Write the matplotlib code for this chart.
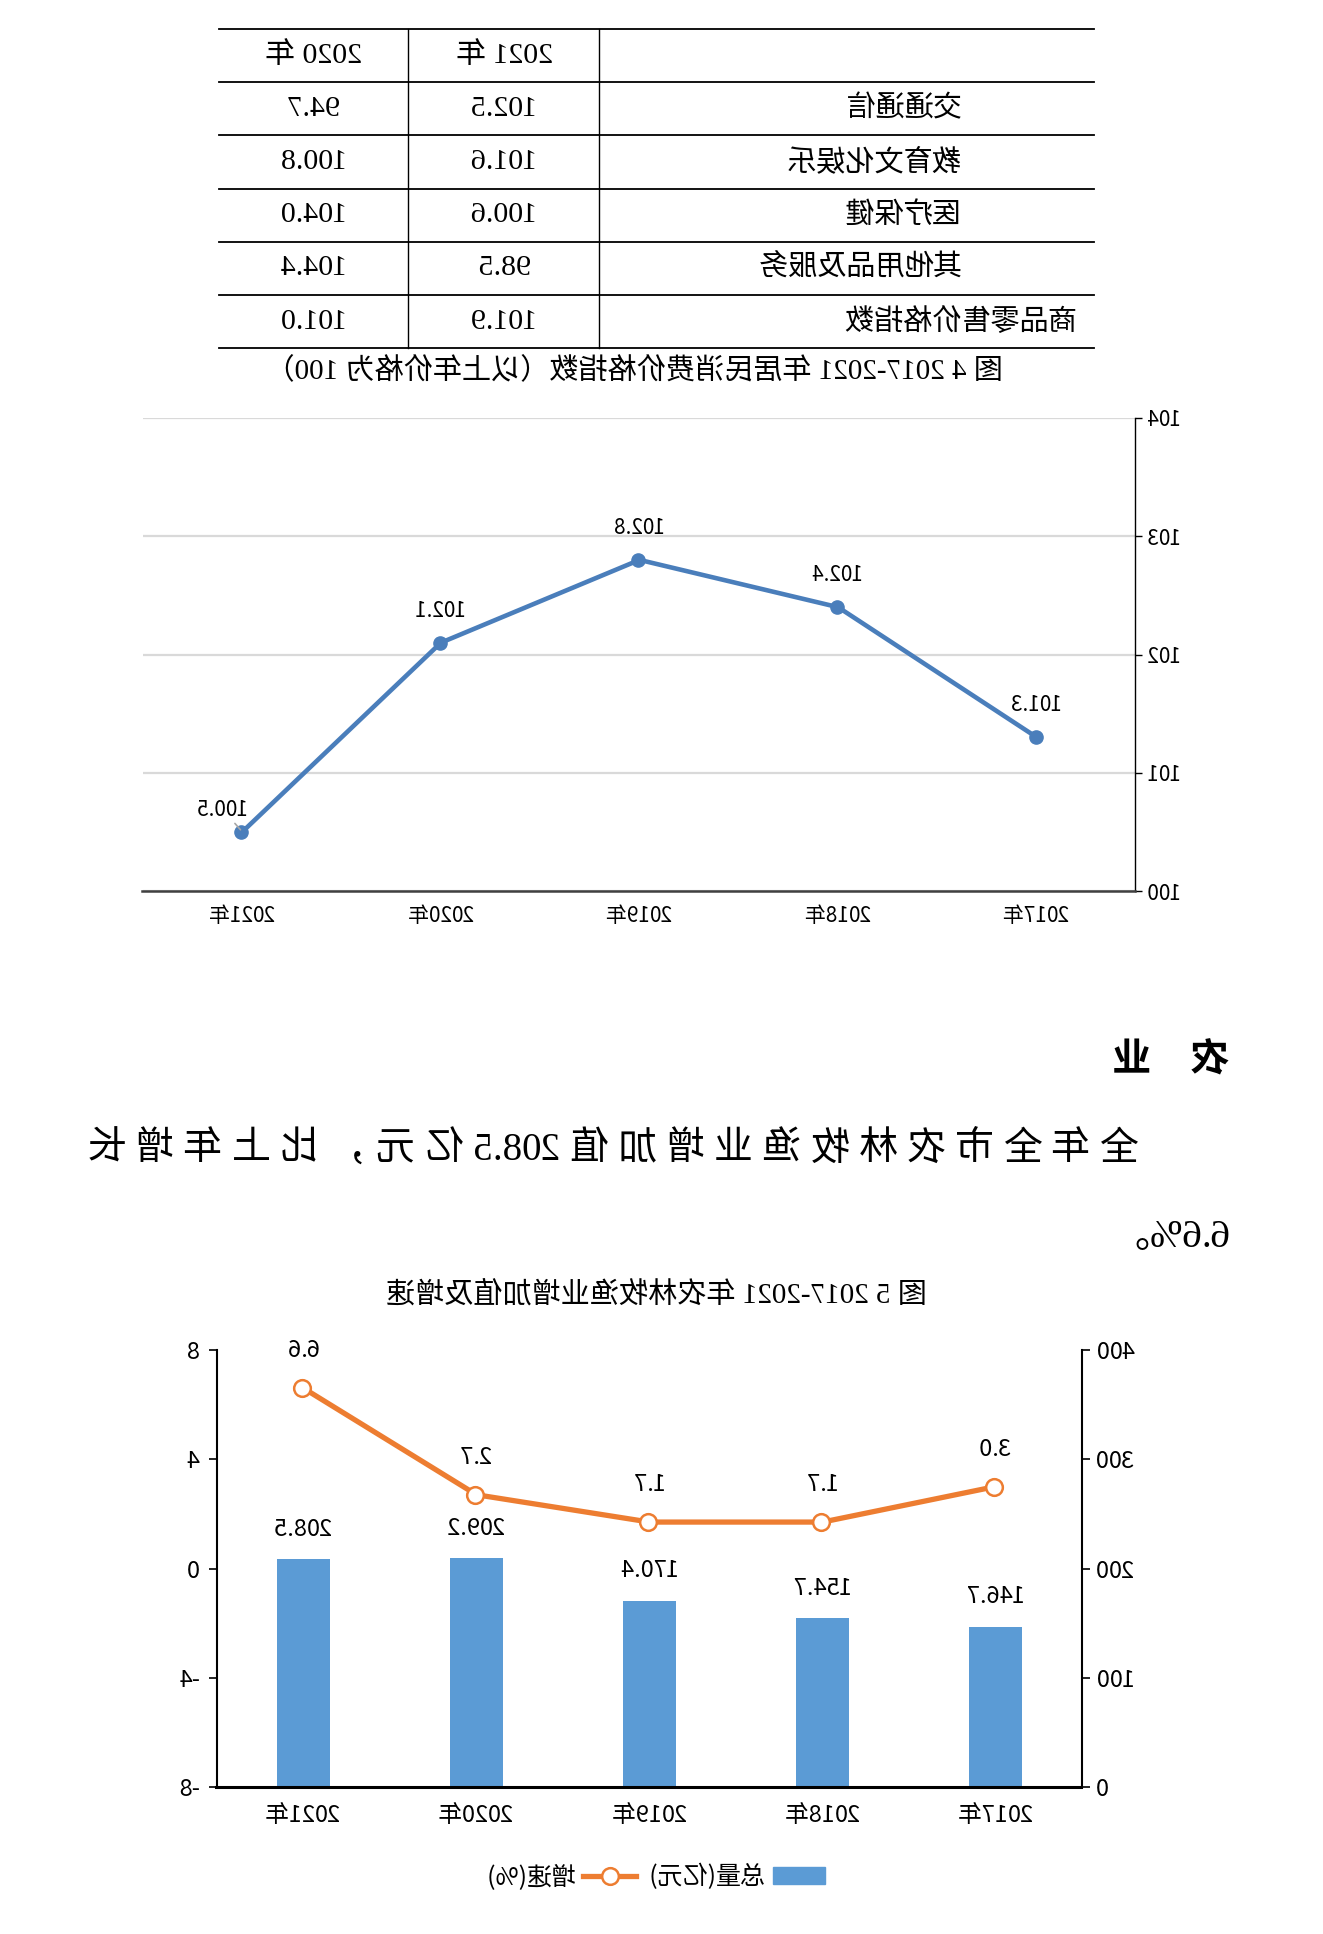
import re
import numpy as np
import matplotlib
matplotlib.use('Agg')
import matplotlib.pyplot as plt
from matplotlib.patches import Patch
from matplotlib.lines import Line2D

plt.rcParams['font.family'] = ['Noto Sans CJK SC', 'DejaVu Sans']
plt.rcParams['axes.unicode_minus'] = False
SERIF = ['Liberation Serif', 'Noto Sans CJK SC']

# table: price indices by category
table_cols = ['2021 年', '2020 年']
table_rows = ['交通通信', '教育文化娱乐', '医疗保健', '其他用品及服务', '商品零售价格指数']
table_2021 = [102.5, 101.6, 100.6, 98.5, 101.9]
table_2020 = [94.7, 100.8, 104.0, 104.4, 101.0]

# fig 4: CPI
years = ['2017年', '2018年', '2019年', '2020年', '2021年']
cpi = [101.3, 102.4, 102.8, 102.1, 100.5]
cpi_ticks = [100, 101, 102, 103, 104]

# fig 5: agriculture value added
agri_total = [146.7, 154.7, 170.4, 209.2, 208.5]
agri_growth = [3.0, 1.7, 1.7, 2.7, 6.6]
total_ticks = [0, 100, 200, 300, 400]
growth_ticks = [-8, -4, 0, 4, 8]
legend_labels = ['总量(亿元)', '增速(%)']

cap4 = '图 4 2017-2021 年居民消费价格指数（以上年价格为 100）'
cap5 = '图 5 2017-2021 年农林牧渔业增加值及增速'
heading = '农　业'
para_line1 = '全年全市农林牧渔业增加值208.5亿元，比上年增长'
para_line2 = '6.6%。'

BLUE_LINE = '#4A7EBB'
BAR = '#5B9BD5'
ORANGE = '#ED7D31'

W, H = 1323, 1934
fig = plt.figure(figsize=(W / 100, H / 100), dpi=100)


def box(x0, y0, x1, y1):
    """pixel box (top-left origin) -> figure fraction rect"""
    return [x0 / W, 1 - y1 / H, (x1 - x0) / W, (y1 - y0) / H]


page = fig.add_axes([0, 0, 1, 1])
page.set_xlim(0, W)
page.set_ylim(H, 0)
page.axis('off')

# ---- table ----
t_left, t_right, t_top, row_h = 229, 1104, 29, 53.2
col_x = [723, 914]
n_lines = len(table_rows) + 2
for k in range(n_lines):
    y = t_top + k * row_h
    page.plot([t_left, t_right], [y, y], color='black', lw=1.3)
for cx in col_x:
    page.plot([cx, cx], [t_top, t_top + (n_lines - 1) * row_h], color='black', lw=1.0)
centers = [(col_x[0] + col_x[1]) / 2, (col_x[1] + t_right) / 2]
for j, name in enumerate(table_cols):
    page.text(centers[j], t_top + 0.5 * row_h, name, ha='center', va='center',
              fontsize=21.5, family=SERIF)
for i, name in enumerate(table_rows):
    yc = t_top + (i + 1.5) * row_h
    lx = 245 if i == len(table_rows) - 1 else 361
    page.text(lx, yc, name, ha='left', va='center', fontsize=21, family=SERIF)
    for j, v in enumerate([table_2021[i], table_2020[i]]):
        page.text(centers[j], yc, f'{v:.1f}', ha='center', va='center',
                  fontsize=21.5, family=SERIF)
page.text(689, 371, cap4, ha='center', va='center', fontsize=21, family=SERIF)

# ---- fig 4 line chart ----
ax = fig.add_axes(box(187, 418, 1180, 891))
x = np.arange(len(years))
ax.plot(x, cpi, color=BLUE_LINE, lw=3.3, marker='o', ms=9.5, zorder=3)
ax.set_xlim(-0.5, len(years) - 0.5)
ax.set_ylim(cpi_ticks[0], cpi_ticks[-1])
ax.set_yticks(cpi_ticks)
ax.set_xticks(x, years)
ax.grid(axis='y', color='#d9d9d9', lw=1.6)
ax.set_axisbelow(True)
for s in ['top', 'right']:
    ax.spines[s].set_visible(False)
ax.spines['left'].set_color('black')
ax.spines['left'].set_linewidth(1.0)
ax.spines['bottom'].set_color('#404040')
ax.spines['bottom'].set_linewidth(1.8)
ax.tick_params(axis='y', direction='out', length=5, width=1, pad=3, labelsize=15)
ax.tick_params(axis='x', length=0, pad=10, labelsize=15)
for i, v in enumerate(cpi):
    if i == len(cpi) - 1:
        ax.annotate(f'{v:.1f}', (i, v), xytext=(14, 16), textcoords='offset points',
                    ha='center', va='center', fontsize=15,
                    arrowprops=dict(arrowstyle='-', color='#a6a6a6', lw=1.2,
                                    shrinkA=0, shrinkB=2))
    else:
        ax.annotate(f'{v:.1f}', (i, v), xytext=(0, 23), textcoords='offset points',
                    ha='center', va='center', fontsize=15)

# ---- text section ----
page.text(94, 1062, heading, ha='left', va='center', fontsize=28,
          fontweight='bold', family=SERIF)

renderer = fig.canvas.get_renderer()
tokens = re.findall(r'[0-9.]+|.', para_line1)
texts = [page.text(0, 1150, tk, ha='left', va='center', fontsize=28, family=SERIF)
         for tk in tokens]
widths = [t.get_window_extent(renderer).width for t in texts]
line_x0, line_x1 = 184, 1235
gap = (line_x1 - line_x0 - sum(widths)) / (len(tokens) - 1)
pos = line_x0
for t, w in zip(texts, widths):
    t.set_x(pos)
    pos += w + gap
page.text(92, 1238, para_line2, ha='left', va='center', fontsize=28, family=SERIF)

page.text(666, 1296, cap5, ha='center', va='center', fontsize=21, family=SERIF)

# ---- fig 5 bar + line ----
axb = fig.add_axes(box(241, 1350, 1106, 1787))
axb.bar(x, agri_total, width=0.31, color=BAR, zorder=2)
axb.set_xlim(-0.5, len(years) - 0.5)
axb.set_ylim(total_ticks[0], total_ticks[-1])
axb.set_yticks(total_ticks)
axb.set_xticks(x, years)
for i, v in enumerate(agri_total):
    axb.annotate(f'{v:.1f}', (i, v), xytext=(0, 21.5), textcoords='offset points',
                 ha='center', va='center', fontsize=17)

axr = axb.twinx()
axr.plot(x, agri_growth, color=ORANGE, lw=3.8, marker='o', ms=12,
         mfc='white', mec=ORANGE, mew=1.8, zorder=3)
axr.set_ylim(growth_ticks[0], growth_ticks[-1])
axr.set_yticks(growth_ticks)
for i, v in enumerate(agri_growth):
    axr.annotate(f'{v:.1f}', (i, v), xytext=(0, 27), textcoords='offset points',
                 ha='center', va='center', fontsize=17)

for a in (axb, axr):
    a.spines['top'].set_visible(False)
axr.spines['bottom'].set_visible(False)
axr.spines['left'].set_visible(False)
axb.spines['right'].set_visible(False)
axb.spines['bottom'].set_linewidth(2.2)
axb.spines['left'].set_linewidth(1.5)
axr.spines['right'].set_linewidth(1.5)
axb.tick_params(axis='y', direction='out', length=6, width=1.2, pad=4, labelsize=17)
axb.tick_params(axis='x', length=0, pad=12, labelsize=17)
axr.tick_params(axis='y', direction='out', length=6, width=1.2, pad=6, labelsize=17)

handles = [Patch(color=BAR),
           Line2D([], [], color=ORANGE, lw=3.8, marker='o', ms=12,
                  mfc='white', mec=ORANGE, mew=1.8)]
fig.legend(handles, legend_labels, loc='center', ncol=2, frameon=False,
           bbox_to_anchor=(667 / W, 1 - 1877 / H), fontsize=18,
           handlelength=2.1, handleheight=0.65, handletextpad=0.35, columnspacing=0.45)

# the reference page is a mirrored scan: flip the rendered canvas horizontally
fig.canvas.draw()
img = np.asarray(fig.canvas.buffer_rgba())[:, ::-1]
plt.imsave('out.png', img)
